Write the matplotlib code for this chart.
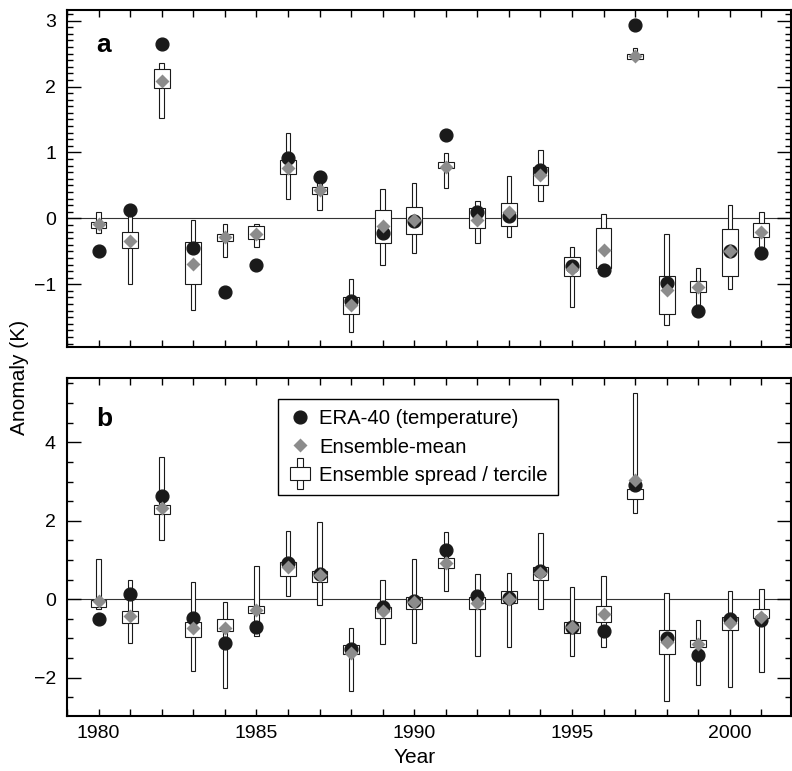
import matplotlib
matplotlib.use("Agg")
import matplotlib.pyplot as plt
from matplotlib.legend_handler import HandlerBase
from matplotlib.lines import Line2D
from matplotlib.patches import Rectangle
from matplotlib.ticker import MultipleLocator

plt.rcParams["font.family"] = ["Liberation Sans", "DejaVu Sans"]

years = list(range(1980, 2002))

# panel a
era_a = [-0.50, 0.13, 2.64, -0.45, -1.11, -0.70, 0.91, 0.62, -1.26, -0.22, -0.04,
         1.26, 0.09, 0.04, 0.74, -0.72, -0.79, 2.93, -0.98, -1.40, -0.49, -0.53]
mean_a = [-0.09, -0.35, 2.08, -0.69, -0.29, -0.23, 0.77, 0.43, -1.31, -0.11, -0.03,
          0.78, -0.02, 0.10, 0.66, -0.77, -0.48, 2.47, -1.09, -1.04, -0.49, -0.20]
terc_lo_a = [-0.15, -0.45, 1.98, -0.99, -0.34, -0.32, 0.67, 0.37, -1.45, -0.37, -0.23,
             0.76, -0.15, -0.11, 0.51, -0.88, -0.75, 2.42, -1.45, -1.12, -0.87, -0.29]
terc_hi_a = [-0.05, -0.21, 2.27, -0.36, -0.24, -0.11, 0.89, 0.48, -1.20, 0.12, 0.17,
             0.85, 0.16, 0.24, 0.78, -0.58, -0.15, 2.50, -0.88, -0.95, -0.16, -0.07]
min_a = [-0.22, -0.99, 1.52, -1.39, -0.59, -0.43, 0.29, 0.12, -1.73, -0.71, -0.52,
         0.46, -0.38, -0.28, 0.26, -1.35, -0.78, 2.40, -1.61, -1.38, -1.07, -0.50]
max_a = [0.10, 0.05, 2.36, -0.02, -0.09, -0.08, 1.30, 0.72, -0.92, 0.44, 0.54,
         0.99, 0.27, 0.64, 1.04, -0.43, 0.06, 2.59, -0.23, -0.76, 0.21, 0.09]

# panel b
era_b = [-0.50, 0.12, 2.62, -0.47, -1.12, -0.70, 0.92, 0.64, -1.27, -0.20, -0.04,
         1.26, 0.07, 0.04, 0.72, -0.72, -0.81, 2.91, -0.99, -1.42, -0.51, -0.53]
mean_b = [-0.04, -0.42, 2.32, -0.74, -0.74, -0.27, 0.83, 0.62, -1.36, -0.29, -0.08,
          0.93, -0.10, 0.00, 0.66, -0.72, -0.37, 3.04, -1.08, -1.15, -0.61, -0.46]
terc_lo_b = [-0.19, -0.61, 2.17, -0.97, -0.81, -0.36, 0.60, 0.45, -1.39, -0.48, -0.25,
             0.79, -0.24, -0.10, 0.48, -0.87, -0.59, 2.55, -1.39, -1.23, -0.78, -0.48]
terc_hi_b = [-0.02, -0.29, 2.39, -0.59, -0.51, -0.17, 0.95, 0.72, -1.16, -0.20, 0.05,
             1.04, 0.05, 0.21, 0.82, -0.57, -0.17, 2.80, -0.78, -1.04, -0.46, -0.24]
min_b = [-0.25, -1.12, 1.50, -1.83, -2.27, -0.95, 0.09, -0.16, -2.35, -1.15, -1.12,
         0.22, -1.44, -1.21, -0.25, -1.44, -1.22, 2.21, -2.59, -2.19, -2.25, -1.86]
max_b = [1.03, 0.48, 3.63, 0.43, -0.08, 0.85, 1.73, 1.97, -0.74, 0.48, 1.02,
         1.72, 0.64, 0.66, 1.68, 0.31, 0.58, 5.25, 0.17, -0.53, 0.21, 0.26]

labels = ["ERA-40 (temperature)", "Ensemble-mean", "Ensemble spread / tercile"]

DOT = "#1a1a1a"
DIAM = "#8c8c8c"
EDGE = "#1a1a1a"


class SpreadHandle:
    pass


class HandlerSpread(HandlerBase):
    def create_artists(self, legend, orig_handle, xdescent, ydescent,
                       width, height, fontsize, trans):
        cx = -xdescent + width / 2
        cy = -ydescent + height / 2
        whisk = Rectangle((cx - 2, cy - 11), 4, 22, facecolor="white",
                          edgecolor=EDGE, lw=0.8, transform=trans)
        box = Rectangle((cx - 7, cy - 4.5), 14, 9, facecolor="white",
                        edgecolor=EDGE, lw=0.8, transform=trans)
        return [whisk, box]


def draw_panel(ax, era, mean, t_lo, t_hi, s_lo, s_hi):
    ax.axhline(0, color="#333333", lw=0.8, zorder=1)
    ax.bar(years, [h - l for l, h in zip(s_lo, s_hi)], bottom=s_lo, width=0.14,
           facecolor="white", edgecolor=EDGE, lw=0.8, zorder=2)
    ax.bar(years, [h - l for l, h in zip(t_lo, t_hi)], bottom=t_lo, width=0.5,
           facecolor="white", edgecolor=EDGE, lw=0.8, zorder=3)
    ax.plot(years, era, "o", color=DOT, ms=9.2, zorder=4)
    ax.plot(years, mean, "D", color=DIAM, mec="none", ms=7, zorder=5)
    ax.set_xlim(1979, 2001.93)
    ax.xaxis.set_major_locator(MultipleLocator(5))
    ax.xaxis.set_minor_locator(MultipleLocator(1))
    ax.tick_params(axis="x", which="both", direction="in", top=True,
                   length=5, width=1, labelsize=14, pad=7)
    ax.tick_params(axis="y", which="both", direction="in", right=True,
                   width=1, labelsize=14, pad=8)
    ax.tick_params(axis="y", which="major", length=10)
    ax.tick_params(axis="y", which="minor", length=4.5)
    for s in ax.spines.values():
        s.set_linewidth(1.5)


fig = plt.figure(figsize=(7.92, 7.71), dpi=100)
ax_a = fig.add_axes([0.0846, 0.550, 0.9138, 0.437])
ax_b = fig.add_axes([0.0846, 0.0717, 0.9138, 0.4376])

draw_panel(ax_a, era_a, mean_a, terc_lo_a, terc_hi_a, min_a, max_a)
ax_a.set_ylim(-1.95, 3.16)
ax_a.yaxis.set_major_locator(MultipleLocator(1))
ax_a.yaxis.set_minor_locator(MultipleLocator(0.1))
ax_a.tick_params(axis="x", labelbottom=False)
ax_a.text(0.05, 0.895, "a", transform=ax_a.transAxes, fontsize=19,
          fontweight="bold", ha="center", va="center")

draw_panel(ax_b, era_b, mean_b, terc_lo_b, terc_hi_b, min_b, max_b)
ax_b.set_ylim(-2.97, 5.63)
ax_b.yaxis.set_major_locator(MultipleLocator(2))
ax_b.yaxis.set_minor_locator(MultipleLocator(0.5))
ax_b.text(0.051, 0.879, "b", transform=ax_b.transAxes, fontsize=19,
          fontweight="bold", ha="center", va="center")

handles = [Line2D([], [], ls="none", marker="o", color=DOT, ms=9.2),
           Line2D([], [], ls="none", marker="D", color=DIAM, mec="none", ms=7),
           SpreadHandle()]
leg = ax_b.legend(handles, labels, handler_map={SpreadHandle: HandlerSpread()},
                  loc="upper left", bbox_to_anchor=(0.292, 0.938), borderaxespad=0,
                  fancybox=False, edgecolor="black", framealpha=1, fontsize=14.6,
                  handlelength=1.15, handletextpad=0.35, labelspacing=0.45,
                  borderpad=0.5)
leg.get_frame().set_linewidth(1.0)

fig.text(0.024, 0.51, "Anomaly (K)", rotation=90, fontsize=15,
         ha="center", va="center")
fig.text(0.524, 0.018, "Year", fontsize=15, ha="center", va="center")

fig.savefig("out.png", dpi=100)
